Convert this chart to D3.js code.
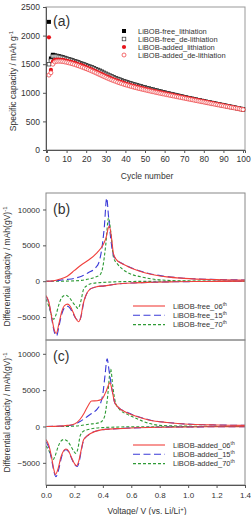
<!DOCTYPE html>
<html lang="en">
<head>
<meta charset="UTF-8">
<title>capacity</title>
<script src="https://d3js.org/d3.v7.min.js"></script>
<style>
  body { margin: 0; background: #fff; }
  text { font-family: "Liberation Sans", Arial, sans-serif; fill: #333; }
</style>
</head>
<body>
<script>
// ---- panel (a) data: capacity per cycle ----
var cycles = d3.range(1, 101);
var freeLith = [2240,1600,1665,1655,1648,1640,1632,1622,1612,1600,
  1590,1580,1568,1556,1545,1533,1520,1508,1495,1482,
  1470,1457,1444,1430,1416,1402,1387,1370,1352,1335,
  1318,1302,1287,1273,1259,1245,1232,1219,1207,1195,
  1184,1173,1162,1152,1142,1132,1122,1112,1102,1093,
  1084,1075,1066,1057,1048,1040,1031,1022,1014,1005,
  997,989,981,973,965,957,949,941,933,925,
  918,910,903,896,888,881,874,867,859,852,
  845,838,831,824,817,810,803,796,789,782,
  775,768,761,754,747,740,733,726,719,712];
var freeDelith = [1500,1560,1640,1640,1635,1628,1620,1611,1601,1590,
  1581,1571,1560,1548,1537,1525,1512,1500,1487,1474,
  1462,1449,1436,1422,1408,1394,1379,1362,1345,1328,
  1311,1295,1280,1266,1252,1238,1225,1212,1200,1188,
  1177,1166,1155,1145,1135,1125,1115,1106,1096,1087,
  1078,1069,1060,1051,1043,1034,1026,1017,1009,1000,
  992,984,976,968,960,952,944,937,929,921,
  914,906,899,892,885,878,870,863,856,849,
  842,835,828,821,814,807,800,793,786,779,
  772,765,758,751,744,737,730,723,716,709];
var addedLith = [1970,1400,1545,1575,1580,1580,1578,1574,1568,1560,
  1552,1543,1533,1522,1511,1499,1487,1474,1461,1448,
  1434,1420,1405,1390,1374,1358,1342,1326,1310,1294,
  1279,1264,1250,1236,1223,1210,1197,1185,1173,1162,
  1151,1141,1131,1121,1112,1103,1094,1085,1076,1068,
  1060,1052,1044,1036,1028,1021,1013,1006,998,991,
  984,976,969,962,955,948,941,934,927,920,
  913,906,899,892,885,878,871,864,857,850,
  843,836,829,822,815,808,801,794,787,780,
  773,766,759,752,745,738,731,724,717,710];
var addedDelith = [1310,1350,1500,1540,1550,1552,1550,1546,1540,1533,
  1525,1516,1506,1495,1484,1472,1460,1447,1434,1421,
  1407,1393,1378,1363,1347,1331,1315,1299,1283,1268,
  1253,1239,1225,1212,1199,1186,1174,1162,1151,1140,
  1130,1120,1110,1101,1092,1083,1074,1066,1058,1050,
  1042,1034,1026,1019,1011,1004,996,989,982,975,
  968,961,954,947,940,933,926,919,912,905,
  898,891,885,878,871,864,857,851,844,837,
  830,824,817,810,804,797,790,784,777,771,
  764,758,751,745,738,732,725,719,712,706];
var seriesNamesA = ['LiBOB-free_lithiation','LiBOB-free_de-lithiation','LiBOB-added_lithiation','LiBOB-added_de-lithiation'];
var capTicks = [0, 500, 1000, 1500, 2000, 2500];
var cycleTicks = d3.range(0, 101, 10);

// ---- panels (b), (c): dQ/dV, [voltage, value] ----
var b06Up = [[0,0],[0.05,50],[0.1,300],[0.15,700],[0.2,1500],[0.25,2300],[0.3,2950],[0.36,4000],[0.4,5000],[0.42,5900],[0.445,7700],[0.46,6200],[0.475,3800],[0.495,3000],[0.53,2500],[0.57,2100],[0.65,1450],[0.73,1000],[0.85,600],[0.97,400],[1.2,220],[1.4,150]];
var b15Up = [[0,0],[0.05,0],[0.1,150],[0.15,250],[0.2,400],[0.25,700],[0.3,1200],[0.35,1900],[0.37,2500],[0.39,4200],[0.41,7500],[0.427,11600],[0.44,9000],[0.455,6000],[0.475,3600],[0.495,3000],[0.53,2550],[0.57,2150],[0.65,1500],[0.73,1050],[0.85,650],[0.97,420],[1.2,240],[1.4,170]];
var b70Up = [[0,0],[0.1,0],[0.2,50],[0.25,120],[0.3,300],[0.35,600],[0.38,900],[0.4,2000],[0.42,5000],[0.44,8850],[0.455,7000],[0.475,3300],[0.505,2350],[0.55,1500],[0.6,970],[0.67,600],[0.75,300],[0.85,120],[1.0,40],[1.4,0]];
var b06Dn = [[0,-2000],[0.02,-2900],[0.04,-5000],[0.06,-6900],[0.072,-7300],[0.09,-6000],[0.11,-4300],[0.13,-3400],[0.152,-3200],[0.17,-3500],[0.19,-4300],[0.21,-5200],[0.228,-5650],[0.245,-5000],[0.26,-3300],[0.28,-2000],[0.31,-1100],[0.35,-800],[0.41,-650],[0.5,-400],[0.6,-250],[0.75,-150],[0.9,-80],[1.1,-40],[1.4,0]];
var b15Dn = [[0,-2100],[0.02,-3000],[0.04,-5200],[0.06,-7200],[0.075,-7600],[0.092,-6200],[0.112,-4500],[0.13,-3700],[0.152,-3500],[0.17,-3800],[0.19,-4500],[0.21,-5200],[0.235,-5500],[0.25,-4600],[0.265,-3000],[0.285,-1800],[0.31,-1100],[0.35,-800],[0.41,-650],[0.5,-400],[0.6,-250],[0.75,-150],[0.9,-80],[1.1,-40],[1.4,0]];
var b70Dn = [[0,-2500],[0.02,-3500],[0.04,-4800],[0.054,-5300],[0.07,-4700],[0.09,-3300],[0.11,-2300],[0.14,-1950],[0.165,-2300],[0.19,-3000],[0.21,-3500],[0.225,-3800],[0.245,-2800],[0.265,-1100],[0.29,-600],[0.32,-330],[0.38,-200],[0.5,-80],[0.7,-20],[1.4,0]];

var c06Up = [[0,0],[0.1,50],[0.15,150],[0.2,350],[0.24,1000],[0.27,1900],[0.3,3000],[0.32,3500],[0.36,3550],[0.39,3700],[0.42,4700],[0.45,6000],[0.465,5000],[0.48,3500],[0.5,2800],[0.57,1900],[0.65,1300],[0.73,870],[0.85,550],[0.97,350],[1.2,200],[1.4,150]];
var c15Up = [[0,0],[0.1,50],[0.15,100],[0.2,300],[0.24,700],[0.31,1650],[0.36,2400],[0.38,3000],[0.4,4500],[0.415,7000],[0.43,9300],[0.445,7500],[0.465,5000],[0.48,3500],[0.5,2800],[0.57,1950],[0.65,1350],[0.73,900],[0.85,560],[0.97,360],[1.2,210],[1.4,160]];
var c70Up = [[0,0],[0.1,0],[0.2,50],[0.3,300],[0.38,550],[0.41,1250],[0.43,3500],[0.455,7900],[0.47,5500],[0.49,3200],[0.52,2300],[0.57,1700],[0.62,1250],[0.73,400],[0.8,150],[1.0,50],[1.4,0]];
var c06Dn = [[0,-1800],[0.02,-2600],[0.04,-4300],[0.055,-5900],[0.067,-6600],[0.085,-5800],[0.105,-4200],[0.125,-3300],[0.14,-3100],[0.16,-3400],[0.18,-4300],[0.2,-5100],[0.215,-5400],[0.23,-4800],[0.25,-3000],[0.265,-1800],[0.29,-1300],[0.31,-1000],[0.38,-500],[0.5,-300],[0.6,-200],[0.8,-100],[1.0,-60],[1.4,-30]];
var c15Dn = [[0,-2100],[0.02,-2900],[0.04,-4600],[0.057,-6300],[0.07,-6900],[0.088,-6000],[0.108,-4300],[0.125,-3400],[0.14,-3200],[0.16,-3500],[0.18,-4400],[0.2,-5200],[0.22,-5500],[0.235,-4700],[0.25,-3100],[0.265,-1900],[0.29,-1300],[0.31,-1000],[0.38,-500],[0.5,-300],[0.6,-200],[0.8,-100],[1.0,-60],[1.4,-30]];
var c70Dn = [[0,-2700],[0.02,-3300],[0.04,-4200],[0.05,-4550],[0.065,-4000],[0.085,-2800],[0.105,-2000],[0.125,-1800],[0.15,-2000],[0.175,-2700],[0.195,-3400],[0.21,-3700],[0.225,-3000],[0.24,-1300],[0.26,-700],[0.29,-450],[0.4,-150],[0.6,-50],[1.4,0]];
var volTicks = [0, 0.2, 0.4, 0.6, 0.8, 1.0, 1.2, 1.4];
var dqTicks = [-5000, 0, 5000, 10000];
var cycleLabels = ['06', '15', '70'];

var width = 251, height = 515;
var L = 46, R = 245;
var svg = d3.select('body').append('svg').attr('width', width).attr('height', height);

// ================= panel (a) =================
var aTop = 7, aBot = 150;
var xA = d3.scaleLinear().domain([-0.5, 101]).range([L, R]);
var yA = d3.scaleLinear().domain([0, 2500]).range([aBot, aTop]);

svg.append('rect').attr('x', L).attr('y', aTop).attr('width', R - L).attr('height', aBot - aTop)
  .attr('fill', 'none').attr('stroke', '#999').attr('stroke-width', 1);

var axA1 = svg.append('g').attr('transform', 'translate(0,' + aBot + ')')
  .call(d3.axisBottom(xA).tickValues(cycleTicks).tickSize(3).tickPadding(3));
var axA2 = svg.append('g').attr('transform', 'translate(' + L + ',0)')
  .call(d3.axisLeft(yA).tickValues(capTicks).tickFormat(d3.format('d')).tickSize(3).tickPadding(3));
[axA1, axA2].forEach(function (g) {
  g.selectAll('path,line').attr('stroke', '#555');
  g.selectAll('text').style('font-size', '8.5px').attr('fill', '#333');
});

var gA = svg.append('g');
gA.selectAll('.fl').data(freeLith).join('rect')
  .attr('x', function (d, i) { return xA(cycles[i]) - 2; })
  .attr('y', function (d) { return yA(d) - 2; })
  .attr('width', 4).attr('height', 4).attr('fill', '#000');
gA.selectAll('.fd').data(freeDelith).join('rect').attr('class', 'fd')
  .attr('x', function (d, i) { return xA(cycles[i]) - 1.8; })
  .attr('y', function (d) { return yA(d) - 1.8; })
  .attr('width', 3.6).attr('height', 3.6).attr('fill', '#fff').attr('stroke', '#333').attr('stroke-width', 0.7);
gA.selectAll('.al').data(addedLith).join('circle').attr('class', 'al')
  .attr('cx', function (d, i) { return xA(cycles[i]); })
  .attr('cy', function (d) { return yA(d); })
  .attr('r', 2.1).attr('fill', '#e8141b');
gA.selectAll('.ad').data(addedDelith).join('circle').attr('class', 'ad')
  .attr('cx', function (d, i) { return xA(cycles[i]); })
  .attr('cy', function (d) { return yA(d); })
  .attr('r', 2).attr('fill', '#fff').attr('stroke', '#f0474a').attr('stroke-width', 0.8);

// legend (a)
var legA = svg.append('g');
seriesNamesA.forEach(function (name, i) {
  var y = 31 + i * 8;
  if (i === 0) legA.append('rect').attr('x', 122).attr('y', y - 2).attr('width', 4).attr('height', 4).attr('fill', '#000');
  if (i === 1) legA.append('rect').attr('x', 122.2).attr('y', y - 1.8).attr('width', 3.6).attr('height', 3.6).attr('fill', '#fff').attr('stroke', '#333').attr('stroke-width', 0.7);
  if (i === 2) legA.append('circle').attr('cx', 124).attr('cy', y).attr('r', 2.1).attr('fill', '#e8141b');
  if (i === 3) legA.append('circle').attr('cx', 124).attr('cy', y).attr('r', 2).attr('fill', '#fff').attr('stroke', '#f0474a').attr('stroke-width', 0.8);
  legA.append('text').attr('x', 138).attr('y', y + 2.8).style('font-size', '7.5px').attr('fill', '#555').text(name);
});

svg.append('text').attr('x', 53).attr('y', 26).style('font-size', '14px').attr('fill', '#222').text('(a)');
svg.append('text').attr('x', 147).attr('y', 179).attr('text-anchor', 'middle').style('font-size', '8.5px').text('Cycle number');
var tA = svg.append('text').attr('transform', 'translate(16,81) rotate(-90)').attr('text-anchor', 'middle').style('font-size', '8.5px');
tA.append('tspan').text('Specific capacity / mAh g');
tA.append('tspan').attr('dy', -3).style('font-size', '6px').text('-1');

// ================= panels (b), (c) =================
var xV = d3.scaleLinear().domain([0, 1.4]).range([L, R]);
var colors = ['#f0403c', '#3a3ad8', '#2e9a35'];
var dashes = [null, '7,3.5', '3,2'];

function dqPanel(top, bot, yDom, ups, dns, tag, legY, prefix, showX) {
  var y = d3.scaleLinear().domain(yDom).range([bot, top]);
  var id = 'clip' + tag;
  svg.append('clipPath').attr('id', id).append('rect')
    .attr('x', L).attr('y', top).attr('width', R - L).attr('height', bot - top);

  var line = d3.line().x(function (d) { return xV(d[0]); }).y(function (d) { return y(d[1]); })
    .curve(d3.curveMonotoneX);
  var g = svg.append('g').attr('clip-path', 'url(#' + id + ')');
  [2, 1, 0].forEach(function (k) {
    [ups[k], dns[k]].forEach(function (arr) {
      g.append('path').datum(arr).attr('d', line).attr('fill', 'none')
        .attr('stroke', colors[k]).attr('stroke-width', 1.1)
        .attr('stroke-dasharray', dashes[k]);
    });
  });

  svg.append('rect').attr('x', L).attr('y', top).attr('width', R - L).attr('height', bot - top)
    .attr('fill', 'none').attr('stroke', '#888').attr('stroke-width', 1);

  var ay = svg.append('g').attr('transform', 'translate(' + L + ',0)')
    .call(d3.axisLeft(y).tickValues(dqTicks).tickFormat(d3.format('d')).tickSize(3).tickPadding(3));
  ay.select('.domain').remove();
  ay.selectAll('line').attr('stroke', '#555');
  ay.selectAll('text').style('font-size', '8px').attr('fill', '#333');

  if (showX) {
    var ax = svg.append('g').attr('transform', 'translate(0,' + bot + ')')
      .call(d3.axisBottom(xV).tickValues(volTicks).tickFormat(d3.format('.1f')).tickSize(3).tickPadding(4));
    ax.selectAll('path,line').attr('stroke', '#555');
    ax.selectAll('text').style('font-size', '8px').attr('fill', '#333');
  }

  svg.append('text').attr('x', 53).attr('y', top + 21).style('font-size', '14px').attr('fill', '#222').text('(' + tag + ')');

  var t = svg.append('text').attr('transform', 'translate(10,' + ((top + bot) / 2) + ') rotate(-90)')
    .attr('text-anchor', 'middle').style('font-size', '8.5px');
  t.append('tspan').text('Differential capacity / mAh(gV)');
  t.append('tspan').attr('dy', -3).style('font-size', '6px').text('-1');

  cycleLabels.forEach(function (c, k) {
    var ly = legY + k * 9.3;
    svg.append('line').attr('x1', 133).attr('x2', 165).attr('y1', ly).attr('y2', ly)
      .attr('stroke', colors[k]).attr('stroke-width', 1.1).attr('stroke-dasharray', dashes[k]);
    var lt = svg.append('text').attr('x', 173).attr('y', ly + 2.8).style('font-size', '7.5px').attr('fill', '#555');
    lt.append('tspan').text(prefix + c);
    lt.append('tspan').attr('dy', -3).style('font-size', '5px').text('th');
  });
}

dqPanel(193, 340, [-8200, 12300], [b06Up, b15Up, b70Up], [b06Dn, b15Dn, b70Dn], 'b', 306, 'LiBOB-free_', false);
dqPanel(340, 485, [-8050, 11900], [c06Up, c15Up, c70Up], [c06Dn, c15Dn, c70Dn], 'c', 445, 'LiBOB-added_', true);

var tX = svg.append('text').attr('x', 147).attr('y', 514).attr('text-anchor', 'middle').style('font-size', '8.5px');
tX.append('tspan').text('Voltage/ V (vs. Li/Li');
tX.append('tspan').attr('dy', -3).style('font-size', '6px').text('+');
tX.append('tspan').attr('dy', 3).text(')');
</script>
</body>
</html>
